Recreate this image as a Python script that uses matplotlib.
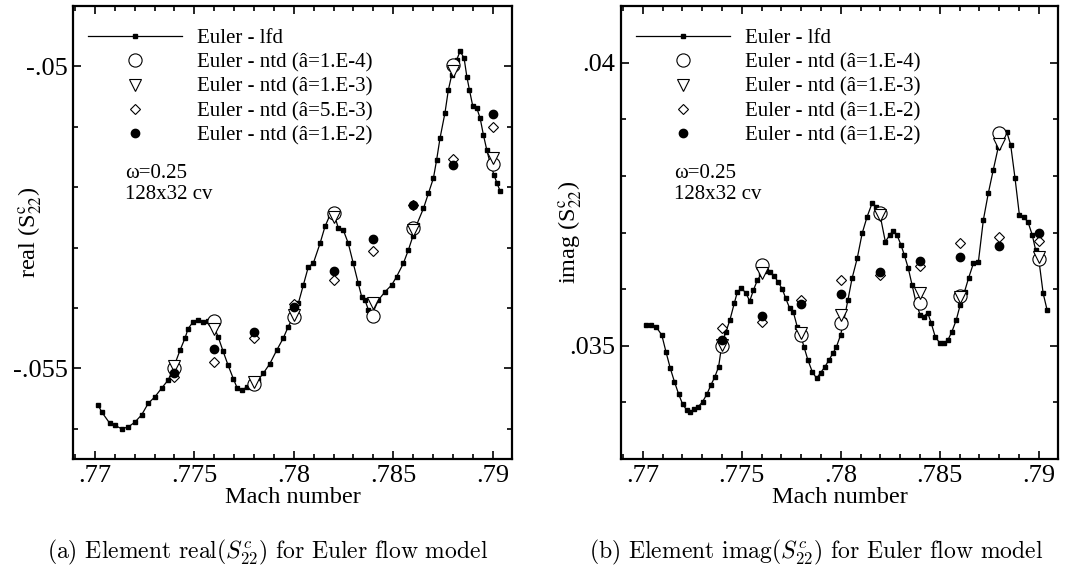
import matplotlib
matplotlib.use("Agg")
import matplotlib.pyplot as plt
from matplotlib.lines import Line2D
from matplotlib.ticker import MultipleLocator
import numpy as np

plt.rcParams['font.family'] = ['Liberation Serif', 'DejaVu Serif']
plt.rcParams['mathtext.fontset'] = 'stix'

# ---------------- data ----------------
mach_lfd_real = [0.77017, 0.77034, 0.77075, 0.7710, 0.77134, 0.77168, 0.77201, 0.77235, 0.77268, 0.77302,
                 0.77335, 0.77369, 0.77394, 0.77428, 0.77453, 0.77469, 0.77494, 0.7752, 0.77545, 0.7757,
                 0.77595, 0.7762, 0.77645, 0.7767, 0.77696, 0.77716, 0.77738, 0.77763, 0.77796, 0.77821,
                 0.77847, 0.7788, 0.77914, 0.77947, 0.77972, 0.77998, 0.78023, 0.78048, 0.78073, 0.78098,
                 0.78132, 0.78157, 0.78182, 0.78199, 0.78224, 0.78249, 0.78274, 0.78299, 0.78324, 0.78341,
                 0.78358, 0.78375, 0.78392, 0.78425, 0.78459, 0.78492, 0.78517, 0.78551, 0.78576, 0.78600,
                 0.78618, 0.78652, 0.78677, 0.78702, 0.78718, 0.78735, 0.78760, 0.78777, 0.78794, 0.78819,
                 0.78836, 0.78856, 0.78870, 0.78883, 0.78900, 0.78920, 0.78937, 0.78953, 0.78970, 0.78987,
                 0.79007, 0.79021, 0.79037]
real_lfd = [-0.05561, -0.05572, -0.05591, -0.05594, -0.05600, -0.05597, -0.05589, -0.05577, -0.05558, -0.05547,
            -0.05533, -0.05519, -0.05500, -0.05470, -0.05450, -0.05434, -0.05423, -0.05420, -0.05424, -0.05421,
            -0.05428, -0.05448, -0.05472, -0.05495, -0.05517, -0.05533, -0.05536, -0.05531, -0.05525, -0.05519,
            -0.05508, -0.05492, -0.05470, -0.05450, -0.05431, -0.05414, -0.05392, -0.05362, -0.05332, -0.05326,
            -0.05293, -0.05265, -0.05246, -0.05240, -0.05268, -0.05271, -0.05293, -0.05326, -0.05359, -0.05381,
            -0.05387, -0.05403, -0.05412, -0.05387, -0.05373, -0.05362, -0.05348, -0.05326, -0.05304, -0.05280,
            -0.05262, -0.05235, -0.05210, -0.05185, -0.05155, -0.05119, -0.05077, -0.05039, -0.05014, -0.04989,
            -0.04975, -0.04986, -0.05017, -0.05039, -0.05066, -0.05069, -0.05086, -0.05113, -0.05138, -0.05160,
            -0.05180, -0.05193, -0.05206]

mach_lfd_imag = [0.77017, 0.77042, 0.77067, 0.77096, 0.77117, 0.77139, 0.77160, 0.77181, 0.77201, 0.77222,
                 0.77240, 0.77260, 0.77280, 0.77302, 0.77324, 0.77344, 0.77364, 0.77383, 0.77400, 0.77420,
                 0.77440, 0.77462, 0.77478, 0.77498, 0.77520, 0.77540, 0.77559, 0.77579, 0.77599, 0.77621,
                 0.77641, 0.77663, 0.77683, 0.77705, 0.77722, 0.77742, 0.77760, 0.77780, 0.77797, 0.77814,
                 0.77834, 0.77856, 0.77878, 0.77898, 0.77920, 0.77940, 0.77960, 0.77978, 0.77999, 0.78016,
                 0.78036, 0.78057, 0.78083, 0.78108, 0.78133, 0.78158, 0.78180, 0.78200, 0.78225, 0.78247,
                 0.78264, 0.78284, 0.78304, 0.78321, 0.78341, 0.78360, 0.78381, 0.78401, 0.78418, 0.78439,
                 0.78457, 0.78477, 0.78499, 0.78519, 0.78541, 0.78561, 0.78583, 0.78603, 0.78625, 0.78645,
                 0.78670, 0.78695, 0.78720, 0.78745, 0.78770, 0.78796, 0.78812, 0.78838, 0.78858, 0.78880,
                 0.78902, 0.78923, 0.78945, 0.78967, 0.78984, 0.79000, 0.79022, 0.79042]
imag_lfd = [0.035366, 0.035366, 0.035336, 0.035189, 0.034894, 0.034601, 0.034364, 0.034147, 0.033970, 0.033864,
            0.033834, 0.033876, 0.033922, 0.034011, 0.034147, 0.034306, 0.034452, 0.034629, 0.035042, 0.035247,
            0.035454, 0.035749, 0.035954, 0.036014, 0.035936, 0.035789, 0.035984, 0.036161, 0.036267, 0.036325,
            0.036307, 0.036231, 0.036131, 0.035996, 0.035837, 0.035661, 0.035600, 0.035336, 0.035189, 0.034982,
            0.034747, 0.034541, 0.034424, 0.034523, 0.034629, 0.034747, 0.034866, 0.034982, 0.035189, 0.035454,
            0.035807, 0.036191, 0.036544, 0.036986, 0.037279, 0.037516, 0.037456, 0.037279, 0.036837, 0.036956,
            0.037032, 0.036956, 0.036779, 0.036602, 0.036367, 0.036073, 0.035749, 0.035542, 0.035512, 0.035583,
            0.035396, 0.035159, 0.035053, 0.035042, 0.035101, 0.035247, 0.035454, 0.035720, 0.035954, 0.036191,
            0.036456, 0.036484, 0.037221, 0.037693, 0.038104, 0.038516, 0.038723, 0.038781, 0.038546, 0.037958,
            0.037309, 0.037269, 0.037191, 0.036956, 0.036691, 0.036527, 0.035926, 0.035631]

mach_ntd = [0.774, 0.776, 0.778, 0.780, 0.782, 0.784, 0.786, 0.788, 0.790]

real_ntd_1e4 = [-0.05500, -0.05422, -0.05526, -0.05415, -0.05243, -0.05414, -0.05267, -0.04997, -0.05161]
real_ntd_1e3 = [-0.05496, -0.05434, -0.05523, -0.05412, -0.05249, -0.05392, -0.05271, -0.05008, -0.05152]
real_ntd_5e3 = [-0.05514, -0.05489, -0.05450, -0.05393, -0.05354, -0.05305, -0.05229, -0.05154, -0.05100]
real_ntd_1e2 = [-0.05507, -0.05468, -0.05439, -0.05399, -0.05339, -0.05285, -0.05229, -0.05164, -0.05078]

imag_ntd_1e4 = [0.035000, 0.036426, 0.035189, 0.035396, 0.037339, 0.035760, 0.035878, 0.038753, 0.036527]
imag_ntd_1e3 = [0.035020, 0.036290, 0.035230, 0.035542, 0.037310, 0.035936, 0.035860, 0.038563, 0.036560]
imag_ntd_1e2a = [0.035318, 0.035424, 0.035807, 0.036161, 0.036250, 0.036413, 0.036809, 0.036926, 0.036850]
imag_ntd_1e2b = [0.035101, 0.035524, 0.035737, 0.035908, 0.036308, 0.036502, 0.036562, 0.036761, 0.036997]

labels_real = ["Euler - lfd", "Euler - ntd (\u00e2=1.E-4)", "Euler - ntd (\u00e2=1.E-3)",
               "Euler - ntd (\u00e2=5.E-3)", "Euler - ntd (\u00e2=1.E-2)"]
labels_imag = ["Euler - lfd", "Euler - ntd (\u00e2=1.E-4)", "Euler - ntd (\u00e2=1.E-3)",
               "Euler - ntd (\u00e2=1.E-2)", "Euler - ntd (\u00e2=1.E-2)"]

xticks = [0.77, 0.775, 0.78, 0.785, 0.79]
xticklabels = [".77", ".775", ".78", ".785", ".79"]
real_yticks = [-0.055, -0.05]
real_yticklabels = ["-.055", "-.05"]
imag_yticks = [0.035, 0.04]
imag_yticklabels = [".035", ".04"]

annot_lines = ["\u03c9=0.25", "128x32 cv"]
caption_a = r"(a) Element real($S^c_{22}$) for Euler flow model"
caption_b = r"(b) Element imag($S^c_{22}$) for Euler flow model"

# ---------------- figure ----------------
W, H = 1077, 571
fig = plt.figure(figsize=(W / 100, H / 100), dpi=100)

def frac(l, r, t, b):
    return [l / W, 1 - b / H, (r - l) / W, (b - t) / H]

axL = fig.add_axes(frac(73, 512, 6, 459))
axR = fig.add_axes(frac(621, 1058, 6, 459))

mk = dict(linestyle='none', color='black')

def draw(ax, mx, my, s1, s2, s3, s4, labels, ylim, yticks, yticklabels, ylabel, ylab_x, ann_x):
    ax.plot(mx, my, '-', color='black', lw=0.9, marker='s', ms=2.2)
    ax.plot(mach_ntd, s1, marker='o', ms=9.5, mfc='white', mec='black', mew=0.8, **mk)
    ax.plot(mach_ntd, s2, marker='v', ms=8.5, mfc='white', mec='black', mew=0.8, **mk)
    ax.plot(mach_ntd, s3, marker='D', ms=5.0, mfc='white', mec='black', mew=0.8, **mk)
    ax.plot(mach_ntd, s4, marker='o', ms=6.0, mfc='black', mec='black', **mk)
    ax.set_xlim(0.7689, 0.79097)
    ax.set_ylim(*ylim)
    ax.set_xticks(xticks)
    ax.set_xticklabels(xticklabels)
    ax.set_yticks(yticks)
    ax.set_yticklabels(yticklabels)
    ax.xaxis.set_minor_locator(MultipleLocator(0.001))
    ax.yaxis.set_minor_locator(MultipleLocator(0.001))
    ax.tick_params(which='both', direction='in', top=True, right=True, width=1.2)
    ax.tick_params(which='major', length=6, labelsize=19, pad=4)
    ax.tick_params(which='minor', length=3.5)
    ax.tick_params(axis='x', which='major', pad=4)
    for sp in ax.spines.values():
        sp.set_linewidth(1.6)
    ax.set_xlabel("Mach number", fontsize=17.5, va='center')
    ax.xaxis.set_label_coords(0.5, -0.086)
    ax.set_ylabel(ylabel, fontsize=17.5, va='center')
    ax.yaxis.set_label_coords(ylab_x, 0.5)
    handles = [
        Line2D([], [], color='black', lw=0.9, marker='s', ms=2.2),
        Line2D([], [], marker='o', ms=9.5, mfc='white', mec='black', mew=0.8, **mk),
        Line2D([], [], marker='v', ms=8.5, mfc='white', mec='black', mew=0.8, **mk),
        Line2D([], [], marker='D', ms=5.0, mfc='white', mec='black', mew=0.8, **mk),
        Line2D([], [], marker='o', ms=6.0, mfc='black', mec='black', **mk),
    ]
    ax.legend(handles, labels, loc='upper left', bbox_to_anchor=(0.034, 0.950), frameon=False,
              fontsize=15, handlelength=4.5, handletextpad=0.75, labelspacing=0.23,
              borderpad=0, borderaxespad=0, numpoints=1)
    ax.text(ann_x, 0.631, annot_lines[0], transform=ax.transAxes, fontsize=15, va='center', ha='left')
    ax.text(ann_x, 0.583, annot_lines[1], transform=ax.transAxes, fontsize=15, va='center', ha='left')

draw(axL, mach_lfd_real, real_lfd, real_ntd_1e4, real_ntd_1e3, real_ntd_5e3, real_ntd_1e2,
     labels_real, (-0.0565, -0.049), real_yticks, real_yticklabels, r"real (S$^{\rm c}_{22}$)",
     -0.098, 0.118)
draw(axR, mach_lfd_imag, imag_lfd, imag_ntd_1e4, imag_ntd_1e3, imag_ntd_1e2a, imag_ntd_1e2b,
     labels_imag, (0.033, 0.041), imag_yticks, imag_yticklabels, r"imag (S$^{\rm c}_{22}$)",
     -0.117, 0.121)

fig.text(268 / W, 1 - 552 / H, caption_a, ha='center', va='center', fontsize=17,
         family='cmr10', math_fontfamily='cm')
fig.text(816 / W, 1 - 552 / H, caption_b, ha='center', va='center', fontsize=17,
         family='cmr10', math_fontfamily='cm')

fig.savefig("out.png", dpi=100)
